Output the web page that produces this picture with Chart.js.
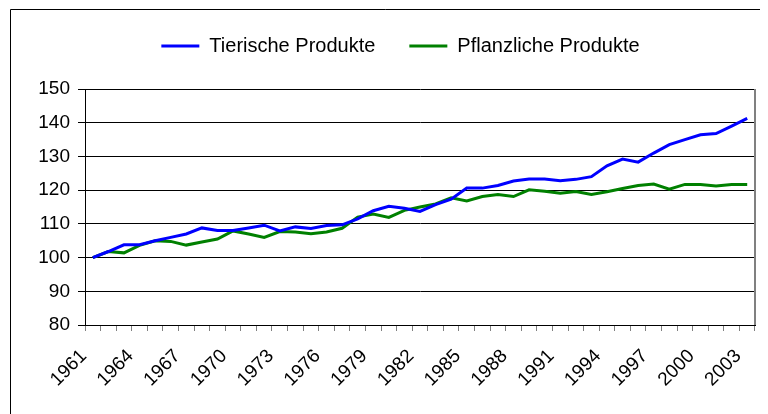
<!DOCTYPE html>
<html>
<head>
<meta charset="utf-8">
<script src="https://cdn.jsdelivr.net/npm/chart.js@4/dist/chart.umd.min.js"></script>
<style>
  html, body { margin: 0; padding: 0; background: #fff; }
  #wrap { width: 768px; height: 414px; }
</style>
</head>
<body>
<div id="wrap"><canvas id="myChart" width="768" height="414"></canvas></div>
<script>
'use strict';

const years = [];
for (let y = 1961; y <= 2003; y++) years.push(String(y));

const tierisch = [
  100, 101.8, 103.8, 103.8, 105, 106, 107, 108.8, 108, 108,
  108.8, 109.6, 107.9, 109.1, 108.6, 109.5, 109.7, 111.5, 113.9, 115.2,
  114.6, 113.7, 115.7, 117.3, 120.6, 120.6, 121.4, 122.7, 123.3, 123.3,
  122.8, 123.2, 124, 127.2, 129.2, 128.3, 131, 133.5, 135, 136.4,
  136.8, 139, 141.3
];

const pflanzlich = [
  100, 101.8, 101.4, 103.6, 105, 104.8, 103.7, 104.6, 105.5, 107.9,
  107, 106, 107.7, 107.6, 107.1, 107.6, 108.7, 112, 112.9, 111.9,
  114, 115, 115.9, 117.7, 116.8, 118.1, 118.7, 118.1, 120.1, 119.7,
  119.1, 119.6, 118.7, 119.5, 120.5, 121.4, 121.8, 120.3, 121.7, 121.7,
  121.2, 121.7, 121.7
];

const fontFamily = '"Liberation Sans", Arial, sans-serif';

// frame round the chart (right/bottom run off the picture) and gray right edge of the plot
const frames = {
  id: 'frames',
  beforeDraw(chart) {
    const ctx = chart.ctx;
    ctx.save();
    ctx.strokeStyle = '#000';
    ctx.lineWidth = 1;
    ctx.beginPath();
    ctx.moveTo(10.5, 414);
    ctx.lineTo(10.5, 9.5);
    ctx.lineTo(760, 9.5);
    ctx.stroke();
    ctx.restore();
  },
  afterDraw(chart) {
    const a = chart.chartArea;
    const ctx = chart.ctx;
    ctx.save();
    ctx.strokeStyle = '#808080';
    ctx.lineWidth = 2;
    ctx.beginPath();
    ctx.moveTo(a.right, a.top);
    ctx.lineTo(a.right, a.bottom);
    ctx.stroke();
    ctx.restore();
  }
};

// pin the legend height so the plot top lands where it should, and nudge it right
const legendFix = {
  id: 'legendFix',
  beforeInit(chart) {
    const fit = chart.legend.fit;
    chart.legend.fit = function () {
      fit.bind(chart.legend)();
      this.height = 87;
    };
  },
  afterLayout(chart) {
    chart.legend.left += 23;
    chart.legend.right += 23;
  }
};

const data = {
  labels: years,
  datasets: [{
    label: 'Tierische Produkte',
    data: tierisch,
    borderColor: '#0000FF',
    backgroundColor: '#0000FF',
    borderWidth: 3,
    pointRadius: 0,
    tension: 0
  }, {
    label: 'Pflanzliche Produkte',
    data: pflanzlich,
    borderColor: '#008000',
    backgroundColor: '#008000',
    borderWidth: 3,
    pointRadius: 0,
    tension: 0
  }]
};

const config = {
  type: 'line',
  data: data,
  plugins: [frames, legendFix],
  options: {
    responsive: false,
    animation: false,
    layout: { padding: { top: 2, right: 13, left: 0, bottom: 0 } },
    plugins: {
      tooltip: { enabled: false },
      legend: {
        position: 'top',
        labels: {
          usePointStyle: true,
          pointStyle: 'line',
          pointStyleWidth: 38,
          color: '#000',
          padding: 34,
          font: { family: fontFamily, size: 20 }
        }
      }
    },
    scales: {
      x: {
        offset: true,
        grid: {
          offset: true,
          drawOnChartArea: false,
          color: '#808080',
          tickLength: 6
        },
        border: { display: true, color: '#000', width: 1 },
        ticks: {
          autoSkip: false,
          maxRotation: 45,
          minRotation: 45,
          color: '#000',
          padding: 14,
          labelOffset: -9,
          font: { family: fontFamily, size: 19 },
          callback: function (value, index) {
            return index % 3 === 0 ? this.getLabelForValue(value) : '';
          }
        },
        afterFit(scale) {
          scale.height = 89;
          scale.paddingLeft = 0;
          scale.paddingRight = 0;
        }
      },
      y: {
        min: 80,
        max: 150,
        ticks: {
          stepSize: 10,
          color: '#000',
          padding: 8,
          font: { family: fontFamily, size: 19 }
        },
        grid: { color: '#000', lineWidth: 1, tickLength: 7 },
        border: { display: true, color: '#000', width: 1 },
        afterFit(scale) { scale.width = 85; }
      }
    }
  }
};

const myChart = new Chart(document.getElementById('myChart'), config);
</script>
</body>
</html>
